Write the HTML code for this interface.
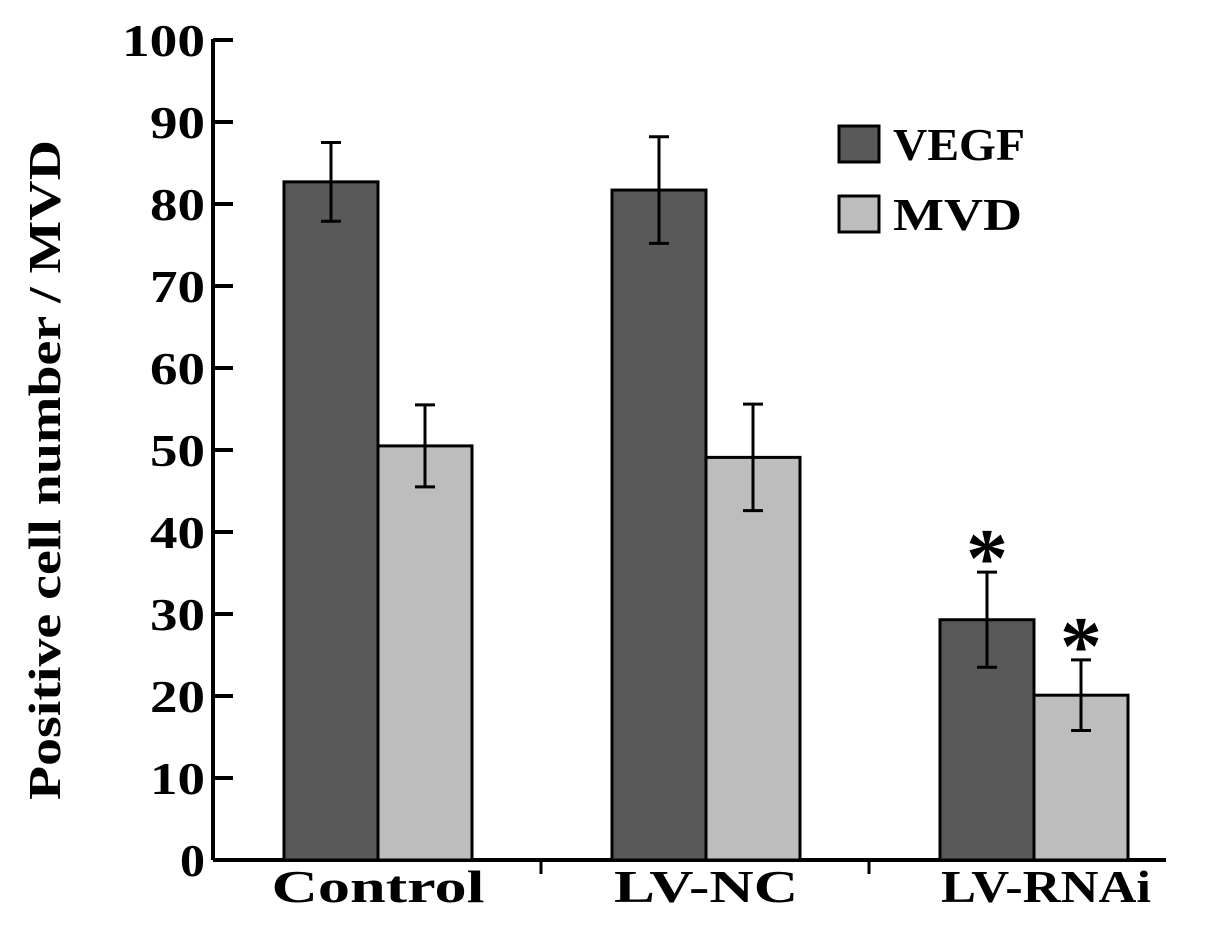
<!DOCTYPE html>
<html><head><meta charset="utf-8"><style>
html,body{margin:0;padding:0;background:#fff;}
svg text{font-family:"Liberation Serif",serif;font-weight:bold;fill:#000;}
</style></head><body>
<svg width="1217" height="932" viewBox="0 0 1217 932">
<g id="axes"></g><g id="bars"></g>
</svg>
<script>
const categories=["Control","LV-NC","LV-RNAi"];
const vegfValues=[82.7,81.7,29.3];
const vegfErr=[4.8,6.5,5.8];
const mvdValues=[50.5,49.1,20.1];
const mvdErr=[5,6.5,4.3];
const yTicks=[0,10,20,30,40,50,60,70,80,90,100];
const stars=[false,false,true];

const NS="http://www.w3.org/2000/svg";
const y0=860, sc=8.2, axisX=213;
const y=v=>y0-v*sc;
const groupX=i=>284+i*328;
const barW=94;
const labelW=[213,184,210];
function el(tag,attrs,parent,text){const e=document.createElementNS(NS,tag);for(const k in attrs)e.setAttribute(k,attrs[k]);if(text!==undefined)e.textContent=text;parent.appendChild(e);return e;}
const axes=document.getElementById('axes'), bars=document.getElementById('bars');
const svg=document.querySelector('svg');

let a=el('line',{x1:axisX,y1:y(100)-1,x2:axisX,y2:y0,stroke:'#000','stroke-width':4},axes);


a=el('line',{x1:axisX,y1:y0,x2:1166,y2:y0,stroke:'#000','stroke-width':4},axes);


yTicks.forEach(t=>{
  let l=el('line',{x1:axisX,y1:y(t),x2:233,y2:y(t),stroke:'#000','stroke-width':4},axes);
  
  
  const s=String(t);
  const w=s.length===3?83:(s.length===2?55:25);
  let tx=el('text',{x:205,y:y(t)+16,'text-anchor':'end','font-size':46,textLength:w,lengthAdjust:'spacingAndGlyphs'},axes,s);
  
  
});
[541,869].forEach(xx=>{let l=el('line',{x1:xx,y1:y0,x2:xx,y2:y0+14,stroke:'#000','stroke-width':3},axes);
  
  });
let yt=el('text',{x:0,y:0,'text-anchor':'middle','font-size':46,textLength:660,lengthAdjust:'spacingAndGlyphs',transform:'translate(60,470) rotate(-90)'},axes,'Positive cell number / MVD');



categories.forEach((c,i)=>{
  const gx=groupX(i);
  [[vegfValues,vegfErr,'#595959','vegf'],[mvdValues,mvdErr,'#bdbdbd','mvd']].forEach((s,j)=>{
    const v=s[0][i], e=s[1][i], x=gx+j*barW;
    let r=el('rect',{x:x,y:y(v),width:barW,height:y0-y(v),fill:s[2],stroke:'#000','stroke-width':3},bars);
    
    
    const cx=x+barW/2;
    let g=el('path',{d:`M${cx},${y(v+e)}V${y(v-e)}M${cx-10},${y(v+e)}H${cx+10}M${cx-10},${y(v-e)}H${cx+10}`,stroke:'#000','stroke-width':3,fill:'none'},bars);
    
    
    if(stars[i]){let st=el('text',{x:cx,y:y(v+e)+14,'text-anchor':'middle','font-size':84,'font-weight':'normal'},bars,'*');
      
      }
  });
  let lb=el('text',{x:gx+barW+(i===2?12:0),y:902,'text-anchor':'middle','font-size':46,textLength:labelW[i],lengthAdjust:'spacingAndGlyphs'},bars,c);
  
  
});
[['VEGF','#595959',126,132],['MVD','#bdbdbd',196,129]].forEach(L=>{
  let r=el('rect',{x:839,y:L[2],width:40,height:36,fill:L[1],stroke:'#000','stroke-width':3},svg);
  
  
  let t=el('text',{x:893,y:L[2]+34,'font-size':46,textLength:L[3],lengthAdjust:'spacingAndGlyphs'},svg,L[0]);
  
  
});
</script>
</body></html>
